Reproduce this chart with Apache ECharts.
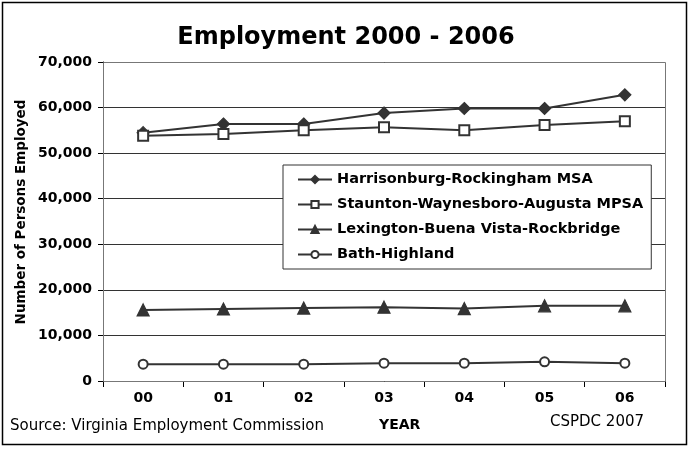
<!DOCTYPE html>
<html>
<head>
<meta charset="utf-8">
<script src="https://cdn.jsdelivr.net/npm/echarts@6/dist/echarts.min.js"></script>
<style>
  html, body { margin: 0; padding: 0; background: #fff; }
  #chart { width: 692px; height: 450px; }
</style>
</head>
<body>
<div id="chart"></div>
<script>
// data
var years = ['00', '01', '02', '03', '04', '05', '06'];
var harrisonburg = [54500, 56400, 56400, 58800, 59800, 59800, 62800];
var staunton = [53800, 54200, 55000, 55700, 55000, 56200, 57000];
var lexington = [15600, 15800, 16000, 16200, 15900, 16500, 16500];
var bath = [3700, 3700, 3700, 3900, 3900, 4200, 3900];
var seriesNames = ['Harrisonburg-Rockingham MSA', 'Staunton-Waynesboro-Augusta MPSA',
                   'Lexington-Buena Vista-Rockbridge', 'Bath-Highland'];

var font = 'DejaVu Sans, Verdana, sans-serif';
var ink = '#333';

var myChart = echarts.init(document.getElementById('chart'));

function makeSeries(name, data, symbol, size) {
    return {
        name: name,
        type: 'line',
        data: data,
        symbol: symbol,
        symbolSize: size,
        showAllSymbol: true,
        lineStyle: { color: ink, width: 2 },
        itemStyle: { color: ink, borderColor: ink, borderWidth: 1.2 },
        emphasis: { disabled: true }
    };
}

var option = {
    animation: false,
    backgroundColor: '#fff',
    title: {
        text: 'Employment 2000 - 2006',
        left: 'center',
        top: 21,
        textStyle: { fontFamily: font, fontSize: 24, fontWeight: 'bold', color: '#000' }
    },
    legend: {
        orient: 'vertical',
        left: 283,
        top: 165,
        itemWidth: 34,
        itemHeight: 9,
        itemGap: 10,
        padding: [7, 8, 7, 14],
        backgroundColor: '#fff',
        borderColor: '#333',
        borderWidth: 1,
        data: seriesNames,
        textStyle: { fontFamily: font, fontSize: 14.5, fontWeight: 'bold', color: '#000' }
    },
    grid: { left: 103, right: 27, top: 62, bottom: 69 },
    xAxis: {
        type: 'category',
        data: years,
        boundaryGap: true,
        axisLine: { lineStyle: { color: '#000', width: 1 } },
        axisTick: { show: true, length: 6, inside: false, lineStyle: { color: '#000' } },
        axisLabel: { fontFamily: font, fontSize: 14, fontWeight: 'bold', color: '#000', margin: 10 }
    },
    yAxis: {
        type: 'value',
        min: 0,
        max: 70000,
        interval: 10000,
        axisLine: { show: true, lineStyle: { color: '#000' } },
        axisTick: { show: true, length: 5, lineStyle: { color: '#000' } },
        splitLine: { show: true, lineStyle: { color: '#333', width: 1 } },
        axisLabel: {
            fontFamily: font, fontSize: 14, fontWeight: 'bold', color: '#000', margin: 11,
            formatter: function (v) { return v.toLocaleString('en-US'); }
        }
    },
    graphic: [
        {
            type: 'rect',
            shape: { x: 2.5, y: 2.5, width: 684, height: 442 },
            style: { fill: 'none', stroke: '#000', lineWidth: 1.5 },
            silent: true
        },
        {
            type: 'rect',
            shape: { x: 103.5, y: 62.5, width: 562, height: 319 },
            style: { fill: 'none', stroke: '#777', lineWidth: 1 },
            silent: true,
            z: 1
        },
        {
            type: 'text',
            x: 21,
            y: 212,
            rotation: Math.PI / 2,
            style: {
                text: 'Number of Persons Employed', fontFamily: font, fontSize: 13.5, fontWeight: 'bold',
                fill: '#000', align: 'center', verticalAlign: 'middle'
            }
        },
        {
            type: 'text',
            left: 379,
            top: 418,
            style: { text: 'YEAR', fontFamily: font, fontSize: 14, fontWeight: 'bold', fill: '#000' }
        },
        {
            type: 'text',
            left: 10,
            top: 419,
            style: { text: 'Source: Virginia Employment Commission', fontFamily: font, fontSize: 15, fill: '#000' }
        },
        {
            type: 'text',
            left: 550,
            top: 415,
            style: { text: 'CSPDC 2007', fontFamily: font, fontSize: 15, fill: '#000' }
        }
    ],
    series: [
        makeSeries(seriesNames[0], harrisonburg, 'diamond', 12),
        makeSeries(seriesNames[1], staunton, 'emptyRect', 10),
        makeSeries(seriesNames[2], lexington, 'triangle', 12),
        makeSeries(seriesNames[3], bath, 'emptyCircle', 9)
    ]
};

myChart.setOption(option);
</script>
</body>
</html>
